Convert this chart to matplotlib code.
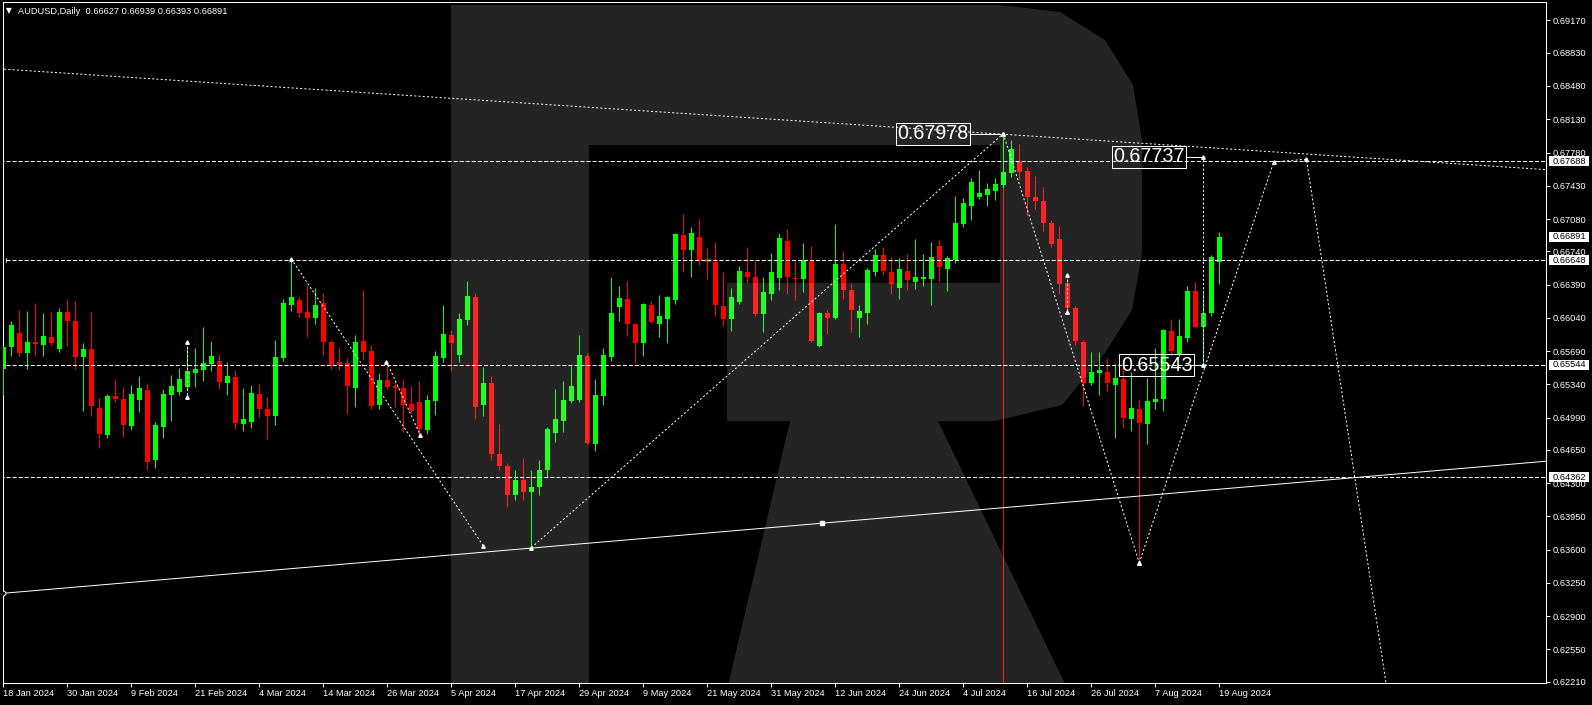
import numpy as np
import matplotlib
matplotlib.use('Agg')
import matplotlib.pyplot as plt
import matplotlib.transforms as mtransforms
from matplotlib.patches import Polygon, Rectangle

plt.rcParams['lines.scale_dashes'] = False
plt.rcParams['font.family'] = ['Liberation Sans', 'DejaVu Sans']

# daily AUDUSD candles, bar 0 = 18 Jan 2024, last bar = 19 Aug 2024
opens = [.6550, .6573, .6588, .6567, .6579, .6575, .6584, .6571, .6610, .6601,
         .6563, .6571, .6509, .6481, .6522, .6519, .6490, .6518, .6528, .6454,
         .6489, .6523, .6526, .6531, .6546, .6549, .6555, .6559, .6535, .6542,
         .6492, .6494, .6524, .6508, .6501, .6562, .6618, .6623, .6610, .6604,
         .6620, .6579, .6557, .6556, .6530, .6580, .6569, .6512, .6539, .6532,
         .6530, .6513, .6515, .6486, .6516, .6562, .6586, .6565, .6602, .6626,
         .6512, .6535, .6461, .6448, .6418, .6433, .6421, .6426, .6444, .6483,
         .6495, .6516, .6518, .6564, .6471, .6522, .6563, .6615, .6624, .6597,
         .6577, .6618, .6598, .6603, .6623, .6691, .6675, .6689, .6666, .6663,
         .6616, .6603, .6621, .6652, .6647, .6608, .6629, .6646, .6685, .6646,
         .6645, .6664, .6574, .6609, .6604, .6661, .6633, .6604, .6609, .6652,
         .6670, .6652, .6635, .6653, .6642, .6645, .6645, .6680, .6655, .6665,
         .6703, .6722, .6731, .6733, .6738, .6744, .6756, .6768, .6759, .6731,
         .6727, .6704, .6687, .6641, .6614, .6579, .6535, .6546, .6547, .6533,
         .6540, .6497, .6508, .6492, .6515, .6519, .6590, .6566, .6583, .6632,
         .6594, .6609, .66627]
highs = [.6574, .6601, .6612, .6611, .6620, .6609, .6610, .6614, .6624, .6622,
         .6578, .6610, .6520, .6524, .6540, .6531, .6533, .6543, .6535, .6494,
         .6529, .6544, .6551, .6572, .6572, .6594, .6580, .6566, .6557, .6549,
         .6530, .6533, .6534, .6521, .6581, .6624, .6666, .6626, .6639, .6635,
         .6630, .6581, .6573, .6562, .6586, .6633, .6575, .6546, .6559, .6539,
         .6540, .6532, .6537, .6523, .6569, .6618, .6591, .6609, .6643, .6630,
         .6552, .6543, .6492, .6451, .6444, .6456, .6444, .6454, .6489, .6529,
         .6537, .6553, .6586, .6567, .6540, .6572, .6647, .6637, .6643, .6598,
         .6620, .6622, .6628, .6627, .6693, .6713, .6700, .6708, .6678, .6684,
         .6652, .6635, .6659, .6679, .6664, .6647, .6672, .6693, .6698, .6664,
         .6683, .6680, .6610, .6612, .6703, .6674, .6641, .6618, .6656, .6676,
         .6679, .6668, .6667, .6671, .6687, .6671, .6684, .6686, .6669, .6732,
         .6730, .6751, .6760, .6746, .6751, .67978, .6791, .6787, .6763, .6753,
         .6742, .6707, .6701, .6649, .6616, .6581, .6568, .6568, .6562, .6555,
         .6560, .6547, .6517, .6541, .6572, .6592, .6603, .6603, .6637, .6642,
         .6633, .6670, .66939]
lows = [.6523, .6564, .6564, .6550, .6564, .6564, .6575, .6568, .6574, .6550,
        .6506, .6501, .6467, .6477, .6515, .6479, .6486, .6505, .6444, .6446,
        .6477, .6495, .6523, .6528, .6531, .6538, .6548, .6529, .6523, .6487,
        .6485, .6488, .6500, .6476, .6491, .6559, .6611, .6605, .6584, .6598,
        .6565, .6550, .6549, .6503, .6510, .6560, .6508, .6508, .6529, .6510,
        .6484, .6504, .6481, .6482, .6502, .6558, .6548, .6558, .6596, .6497,
        .6501, .6454, .6444, .6405, .6412, .6412, .6362, .6418, .6436, .6473,
        .6484, .6514, .6515, .6471, .6464, .6512, .6559, .6601, .6585, .6556,
        .6564, .6599, .6584, .6577, .6619, .6652, .6647, .6660, .6645, .6606,
        .6595, .6590, .6619, .6641, .6606, .6589, .6623, .6633, .6629, .6623,
        .6631, .6579, .6573, .6587, .6603, .6624, .6589, .6584, .6598, .6648,
        .6649, .6629, .6624, .6633, .6634, .6637, .6618, .6642, .6632, .6662,
        .6700, .6707, .6729, .6722, .6728, .6741, .6752, .6750, .6712, .6719,
        .6695, .6679, .6629, .6610, .6575, .6511, .6533, .6523, .6527, .6478,
        .6488, .6485, .6346, .6471, .6508, .6506, .6565, .6563, .6579, .6593,
        .65543, .6606, .66393]
closes = [.6573, .6596, .6567, .6579, .6576, .6585, .6577, .6610, .6601, .6563,
          .6571, .6511, .6482, .6522, .6519, .6491, .6524, .6530, .6452, .6491,
          .6524, .6532, .6540, .6548, .6550, .6556, .6564, .6536, .6543, .6493,
          .6497, .6525, .6508, .6501, .6563, .6620, .6626, .6609, .6604, .6618,
          .6579, .6554, .6554, .6532, .6579, .6568, .6511, .6539, .6531, .6530,
          .6512, .6506, .6487, .6518, .6564, .6587, .6577, .6603, .6627, .6510,
          .6535, .6461, .6448, .6418, .6433, .6421, .6426, .6444, .6487, .6497,
          .6518, .6532, .6565, .6472, .6523, .6565, .6609, .6625, .6597, .6578,
          .6619, .6600, .6606, .6626, .6692, .6675, .6693, .6665, .6663, .6618,
          .6603, .6626, .6653, .6647, .6608, .6631, .6652, .6688, .6647, .6645,
          .6665, .6580, .6609, .6604, .6661, .6633, .6612, .6611, .6654, .6670,
          .6653, .6640, .6655, .6644, .6647, .6647, .6668, .6657, .6667, .6704,
          .6725, .6747, .6735, .6740, .6745, .6758, .6782, .6758, .6731, .6727,
          .6704, .6682, .6640, .6614, .6580, .6535, .6547, .6549, .6535, .6541,
          .6499, .6509, .6493, .6516, .6519, .6591, .6569, .6585, .6632, .6594,
          .6609, .6668, .66891]

date_labels = ['18 Jan 2024', '30 Jan 2024', '9 Feb 2024', '21 Feb 2024', '4 Mar 2024',
               '14 Mar 2024', '26 Mar 2024', '5 Apr 2024', '17 Apr 2024', '29 Apr 2024',
               '9 May 2024', '21 May 2024', '31 May 2024', '12 Jun 2024', '24 Jun 2024',
               '4 Jul 2024', '16 Jul 2024', '26 Jul 2024', '7 Aug 2024', '19 Aug 2024']
date_step = 8

price_ticks = [0.62210, 0.62550, 0.62900, 0.63250, 0.63600, 0.63950, 0.64300, 0.64650,
               0.64990, 0.65340, 0.65690, 0.66040, 0.66390, 0.66740, 0.67080, 0.67430,
               0.67780, 0.68130, 0.68480, 0.68830, 0.69170]

# horizontal levels (dashed, with the bar they start at) and the boxed tags on the scale
levels = [0.67688, 0.66648, 0.65544, 0.64362]
level_start = [-0.4, 0.4, -0.4, -0.4]
tag_levels = [0.67688, 0.66891, 0.66648, 0.65544, 0.64362]

# trend lines (bar index, price)
res_x, res_y = [-0.41, 192.8], [0.6866, 0.6760]
sup_x, sup_y = [-0.04, 192.8], [0.6314, 0.6453]

# wave drawing (dotted)
waves = [
    ([36, 60], [0.6666, 0.6364]),
    ([47.9, 52.1], [0.6558, 0.6481]),
    ([66, 125], [0.6362, 0.67978]),
    ([125, 142], [0.67978, 0.6346]),
    ([142, 158.8, 162.9, 175], [0.6346, 0.6768, 0.6771, 0.6100]),
    ([150, 150], [0.65543, 0.67737]),
    ([23, 23], [0.6579, 0.6521]),
    ([133, 133], [0.6649, 0.6610]),
]
# boxed labels: (text, bar of label centre, price, bar of anchor point)
callouts = [('0.67978', 116.2, 0.67978, 125),
            ('0.67737', 143.2, 0.67737, 150),
            ('0.65543', 144.2, 0.65543, 150)]
event_bar = 125

W, H = 1592, 705
fig = plt.figure(figsize=(W / 100, H / 100), dpi=100, facecolor='black')
ax = fig.add_axes([2.5 / W, 1 - 683 / H, (1546 - 2.5) / W, (683 - 2.3) / H])
ax.set_facecolor('black')
ax.set_xlim(-0.1, 192.84)
ax.set_ylim(0.62196, 0.69361)
px = 0.72  # one pixel in points

for s in ax.spines.values():
    s.set_color('white')
    s.set_linewidth(px)

o, h, l, c = map(np.array, (opens, highs, lows, closes))
idx = np.arange(len(o))
col = np.where(c >= o, '#00ff00', '#ff0000')

# red event line under the candles
ax.vlines(event_bar, 0.60, l[event_bar], color='#ff0000', lw=px, zorder=2)

ax.vlines(idx, l, h, colors=col, lw=px, zorder=3)
body = np.maximum(np.abs(c - o), 0.00011)
ax.bar(idx, body, bottom=np.minimum(o, c), width=0.62, color=col, lw=0, zorder=4)

for lv, x0 in zip(levels, level_start):
    ax.hlines(lv, x0, 200, color='white', lw=px, linestyles=(0, (2.9, 1.45)), zorder=5)
ax.plot([level_start[1]], [levels[1]], '|', ms=3, color='white', mew=px, zorder=6)

ax.plot(res_x, res_y, color='white', lw=px, dashes=(1.45, 1.6), zorder=5)
ax.plot(sup_x, sup_y, color='white', lw=px, zorder=5)
ax.plot([sup_x[0]], [sup_y[0]], 'o', ms=3.5, mfc='black', mec='white', mew=px, zorder=6)
mid = 102.3
ax.plot([mid], [np.interp(mid, sup_x, sup_y)], 's', ms=3, mfc='white', mec='white', zorder=6)

for xs, ys in waves:
    ax.plot(xs, ys, color='white', lw=px, dashes=(1.45, 1.6), zorder=5)
    ax.plot(xs, ys, ' ', marker='^', ms=2.5, color='white', zorder=6)

for txt, xb, yv, xa in callouts:
    ax.plot([xb + 4.6, xa], [yv, yv], color='white', lw=px, zorder=11)
    ax.text(xb, yv, txt, color='white', fontsize=14.2, ha='center', va='center',
            zorder=12, bbox=dict(boxstyle='square,pad=0.08', fc='none', ec='white', lw=px))

# watermark "R" drawn in figure pixels
to_px = mtransforms.Affine2D().scale(1 / W, -1 / H).translate(0, 1) + fig.transFigure
bowl = [(589, 5), (1000, 5), (1060, 12), (1105, 40), (1133, 85), (1142, 140),
        (1142, 253), (1132, 310), (1105, 353), (1062, 405), (995, 421), (727, 421),
        (727, 283), (1000, 283), (1000, 145), (589, 145)]
leg = [(790, 421), (938, 421), (1068, 690), (727, 690)]
stem = [(451, 5), (589, 5), (589, 690), (451, 690)]
for pts in (stem, bowl, leg):
    ax.add_patch(Polygon(pts, closed=True, transform=to_px, fc='white', alpha=0.145,
                         lw=0, zorder=10))

ax.yaxis.tick_right()
ax.set_yticks(price_ticks)
ax.set_yticklabels(['%.5f' % v for v in price_ticks])
ax.tick_params(axis='y', colors='white', length=3, width=px, pad=1.5, labelsize=6.7)
ax.set_xticks(np.arange(len(date_labels)) * date_step)
ax.set_xticklabels(date_labels)
ax.tick_params(axis='x', colors='white', length=3, width=px, pad=1.5, labelsize=6.7)
for t in ax.get_xticklabels():
    t.set_ha('left')

# boxed price tags on the right scale
tag_tr = mtransforms.blended_transform_factory(fig.transFigure, ax.transData)
tag_h = 10 * (0.69361 - 0.62196) / 680.7
for lv in tag_levels:
    ax.add_patch(Rectangle((1549 / W, lv - tag_h / 2), 40 / W, tag_h, transform=tag_tr,
                           fc='white', ec='none', clip_on=False, zorder=20))
    ax.text(1569 / W, lv, '%.5f' % lv, transform=tag_tr, color='black', fontsize=6.7,
            ha='center', va='center', clip_on=False, zorder=21)

fig.text(6 / W, 1 - 11 / H, '\u25bc', color='white', fontsize=5.5, va='center',
         family=['DejaVu Sans'])
fig.text(17.5 / W, 1 - 11 / H, 'AUDUSD,Daily  0.66627 0.66939 0.66393 0.66891',
         color='white', fontsize=6.7, va='center')

fig.savefig('out.png', dpi=100, facecolor='black')
